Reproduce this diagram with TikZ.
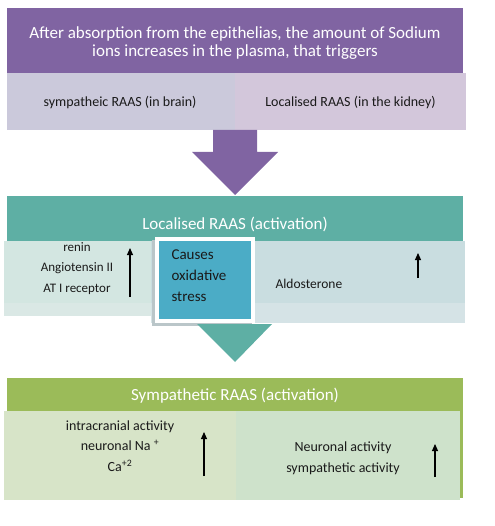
\documentclass[tikz,border=0pt]{standalone}
\usepackage{fontspec}
\setmainfont{Carlito}
\usetikzlibrary{positioning,arrows.meta,calc}
\definecolor{purplex}{HTML}{8064A2}
\definecolor{lilacl}{HTML}{CBC9DB}
\definecolor{lilacr}{HTML}{D3C7DB}
\definecolor{tealx}{HTML}{5EAFA4}
\definecolor{mintl}{HTML}{D3E6E1}
\definecolor{mintlb}{HTML}{DAE8E5}
\definecolor{mintr}{HTML}{C9DDE0}
\definecolor{mintrb}{HTML}{D5E3E6}
\definecolor{bluex}{HTML}{4BACC6}
\definecolor{greenx}{HTML}{9BBB59}
\definecolor{sagel}{HTML}{D7E4C8}
\definecolor{sager}{HTML}{CEE2CB}
\definecolor{inkx}{HTML}{1A1A1A}
\definecolor{shadex}{HTML}{BAC6C9}

\begin{document}
\begin{tikzpicture}[x=1pt, y=-1pt,
  panel/.style={anchor=north west, inner sep=0pt, outer sep=0pt},
  headtxt/.style={text=white, font=\fontsize{17}{18}\selectfont, align=center},
  bodytxt/.style={text=inkx, font=\fontsize{14}{21}\selectfont, align=center},
  uparr/.style={-{Triangle[length=7pt,width=6pt]}, line width=1.1pt, black}]

  \useasboundingbox (0,0) rectangle (494,526);

  % top block
  \node[panel, fill=purplex, minimum width=456pt, minimum height=65pt] (trigger) at (7,8) {};
  \node[headtxt] (triggertxt) at ($(trigger.center)+(0,2.5)$) {After absorption from the epithelias, the amount of Sodium\\ions increases in the plasma, that triggers};
  \node[panel, fill=lilacl, minimum width=228pt, minimum height=57pt] (brain) at (7,73) {};
  \node[panel, fill=lilacr, minimum width=231pt, minimum height=57pt] (kidney) at (235,73) {};
  \node[bodytxt] (braintxt) at ($(brain.center)+(-1,1.5)$) {sympatheic RAAS (in brain)};
  \node[bodytxt] (kidneytxt) at ($(kidney.center)+(0,1.5)$) {Localised RAAS (in the kidney)};

  % big arrow down
  \fill[purplex] (213,130) -- (257,130) -- (257,152) -- (278,152) -- (235,195) -- (192,152) -- (213,152) -- cycle;

  % localised RAAS
  \node[panel, fill=tealx, minimum width=456pt, minimum height=45pt] (local) at (7,196) {};
  \node[headtxt] (localtxt) at ($(local.center)+(0,6)$) {Localised RAAS (activation)};
  \node[panel, fill=mintl, minimum width=151pt, minimum height=75pt] (enzymes) at (4,241) {};
  \fill[mintlb] (4,303) rectangle (155,316);
  \node[panel, fill=mintr, minimum width=314pt, minimum height=82pt] (aldo) at (151,241) {};
  \fill[mintrb] (151,303) rectangle (465,323);
  \fill[shadex] (152,240) rectangle (252,326);
  \node[panel, fill=bluex, draw=white, line width=4pt, minimum width=96pt, minimum height=82pt] (stress) at (157,239) {};
  \node[bodytxt, font=\fontsize{13}{20.5}\selectfont] (enzymestxt) at (77,268.5) {renin\\Angiotensin II\\AT I receptor};
  \node[bodytxt, font=\fontsize{15}{21}\selectfont, align=left, anchor=west] (stresstxt) at (168,276) {Causes\\oxidative\\stress};
  \node[bodytxt, font=\fontsize{13.5}{21}\selectfont, anchor=west] (aldotxt) at (272,284) {Aldosterone};
  \coordinate (enzlo) at (130,297);
  \coordinate (enzhi) at (130,248);
  \coordinate (aldlo) at (418,278);
  \coordinate (aldhi) at (418,253);
  \draw[uparr] (enzlo) -- (enzhi);
  \draw[uparr] (aldlo) -- (aldhi);

  % small arrow down
  \fill[tealx] (197,324) -- (272,324) -- (235,362) -- cycle;

  % sympathetic RAAS
  \node[panel, fill=greenx, minimum width=456pt, minimum height=120pt] (symp) at (7,378) {};
  \node[headtxt] (symptxt) at (235,395.5) {Sympathetic RAAS (activation)};
  \node[panel, fill=sagel, minimum width=232pt, minimum height=89pt] (cranial) at (4,411) {};
  \node[panel, fill=sager, minimum width=224pt, minimum height=89pt] (neuro) at (236,411) {};
  \node[bodytxt, font=\fontsize{14}{20.5}\selectfont] (cranialtxt) at (120,446) {intracranial activity\\neuronal Na \textsuperscript{+}\\Ca\textsuperscript{+2}};
  \node[bodytxt] (neurotxt) at (343,458.5) {Neuronal activity\\sympathetic activity};
  \coordinate (cralo) at (204,476);
  \coordinate (crahi) at (204,432);
  \coordinate (neulo) at (435,477);
  \coordinate (neuhi) at (435,444);
  \draw[uparr] (cralo) -- (crahi);
  \draw[uparr] (neulo) -- (neuhi);
\end{tikzpicture}
\end{document}
